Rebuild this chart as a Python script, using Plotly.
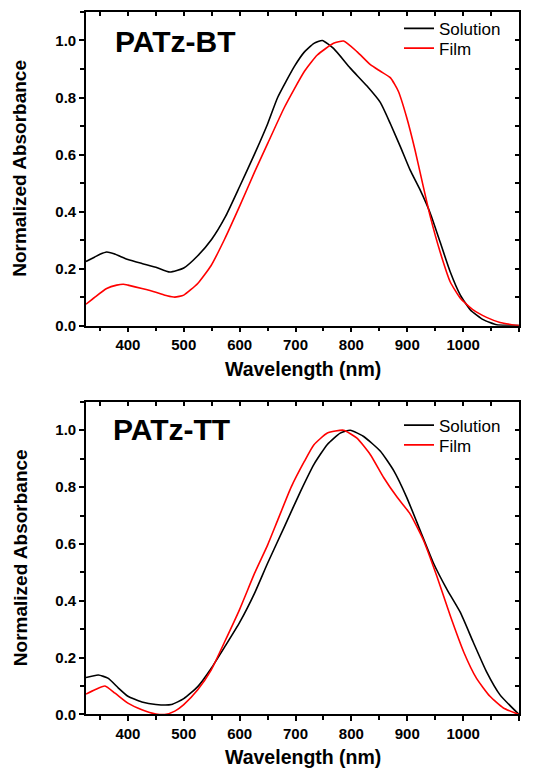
import plotly.graph_objects as go

FONT = "Arial, Liberation Sans, Helvetica, sans-serif"

# ---------------- data: PATz-BT ----------------
bt_sol_wl = [325, 340, 350, 362, 375, 400, 425, 450, 475, 500, 525, 550, 575, 600, 627, 650,
             668, 698, 716, 733, 748, 768, 798, 828, 852, 870, 888, 905, 923, 941, 959, 977,
             995, 1013, 1036, 1060, 1080, 1100]
bt_sol_abs = [0.225, 0.240, 0.250, 0.258, 0.252, 0.232, 0.218, 0.205, 0.188, 0.202, 0.245, 0.303,
              0.384, 0.488, 0.603, 0.707, 0.800, 0.909, 0.960, 0.990, 1.000, 0.972, 0.903, 0.840,
              0.782, 0.707, 0.626, 0.546, 0.476, 0.395, 0.292, 0.188, 0.107, 0.055, 0.021, 0.003,
              0.001, 0.000]

bt_film_wl = [325, 341, 362, 380, 392, 400, 425, 450, 470, 484, 500, 525, 549, 573, 600, 627,
              650, 680, 716, 739, 768, 786, 810, 834, 852, 870, 884, 899, 914, 926, 941, 959,
              977, 995, 1018, 1042, 1066, 1085, 1100]
bt_film_abs = [0.075, 0.100, 0.130, 0.142, 0.145, 0.142, 0.130, 0.117, 0.105, 0.100, 0.107, 0.148,
               0.211, 0.303, 0.419, 0.540, 0.638, 0.765, 0.892, 0.949, 0.990, 0.998, 0.961, 0.915,
               0.892, 0.869, 0.822, 0.730, 0.615, 0.511, 0.384, 0.257, 0.153, 0.096, 0.055, 0.029,
               0.011, 0.004, 0.000]

# ---------------- data: PATz-TT ----------------
tt_sol_wl = [325, 347, 365, 383, 400, 425, 450, 478, 500, 525, 549, 573, 600, 627, 650, 680,
             709, 733, 757, 780, 798, 822, 852, 876, 899, 923, 947, 971, 995, 1018, 1042, 1066,
             1100]
tt_sol_abs = [0.130, 0.139, 0.127, 0.093, 0.064, 0.044, 0.035, 0.035, 0.056, 0.098, 0.162, 0.237,
              0.324, 0.428, 0.532, 0.660, 0.785, 0.880, 0.950, 0.990, 1.000, 0.978, 0.926, 0.857,
              0.764, 0.648, 0.532, 0.440, 0.359, 0.255, 0.150, 0.069, 0.000]

tt_film_wl = [325, 341, 359, 377, 400, 425, 450, 466, 484, 500, 525, 549, 573, 600, 627, 650,
              668, 692, 716, 733, 757, 786, 810, 834, 858, 882, 905, 929, 953, 977, 1001, 1024,
              1048, 1072, 1100]
tt_film_abs = [0.072, 0.087, 0.100, 0.075, 0.040, 0.017, 0.002, 0.000, 0.012, 0.035, 0.087, 0.156,
               0.255, 0.370, 0.498, 0.596, 0.683, 0.799, 0.891, 0.949, 0.990, 1.000, 0.972, 0.914,
               0.833, 0.764, 0.706, 0.613, 0.486, 0.347, 0.220, 0.127, 0.064, 0.023, 0.000]

series_names = ["Solution", "Film"]
panel_labels = ["PATz-BT", "PATz-TT"]
x_title = "Wavelength (nm)"
y_title = "Normalized Absorbance"

X_RANGE = [325, 1100]
Y_RANGE = [0, 1.1]

# page has an 8px body margin; figure sized so the page is exactly 535x777
PAD = 8
W, H = 535 - 2 * PAD, 777 - 2 * PAD
def px_x(p):
    return (p - PAD) / W
def px_y(p):
    return 1 - (p - PAD) / H

XDOM = [px_x(86), px_x(519)]
YDOM_TOP = [px_y(329), px_y(12)]
YDOM_BOT = [px_y(722), px_y(406)]

fig = go.Figure()
line_w = 1.6
def trace(x, y, name, color, xa, ya, leg):
    return go.Scatter(x=x, y=y, name=name, mode="lines",
                      line=dict(color=color, width=line_w, shape="spline", smoothing=0.5),
                      xaxis=xa, yaxis=ya, legend=leg)

fig.add_trace(trace(bt_sol_wl, bt_sol_abs, series_names[0], "black", "x", "y", "legend"))
fig.add_trace(trace(bt_film_wl, bt_film_abs, series_names[1], "#ff0000", "x", "y", "legend2"))
fig.add_trace(trace(tt_sol_wl, tt_sol_abs, series_names[0], "black", "x2", "y2", "legend3"))
fig.add_trace(trace(tt_film_wl, tt_film_abs, series_names[1], "#ff0000", "x2", "y2", "legend4"))
# empty traces that carry the inward top/right tick axes
fig.add_trace(go.Scatter(x=[], y=[], xaxis="x3", yaxis="y3", showlegend=False, hoverinfo="skip"))
fig.add_trace(go.Scatter(x=[], y=[], xaxis="x4", yaxis="y4", showlegend=False, hoverinfo="skip"))

tickfont = dict(family=FONT, size=15, color="black", weight="bold")
AX_W = 1.6

def xaxis(anchor):
    return dict(domain=XDOM, anchor=anchor, range=X_RANGE, showgrid=False, zeroline=False,
                showline=True, mirror=True, linecolor="black", linewidth=AX_W,
                ticks="outside", ticklen=5, tickwidth=AX_W, tickcolor="black",
                tick0=0, dtick=100, tickfont=tickfont,
                minor=dict(ticks="outside", ticklen=4, tickwidth=AX_W, tickcolor="black",
                           dtick=50, tick0=0, showgrid=False))

def yaxis(anchor, dom):
    return dict(domain=dom, anchor=anchor, range=Y_RANGE, showgrid=False, zeroline=False,
                showline=True, mirror=True, linecolor="black", linewidth=AX_W,
                ticks="outside", ticklen=5, tickwidth=AX_W, tickcolor="black",
                tick0=0, dtick=0.2, tickformat=".1f", tickfont=tickfont,
                minor=dict(ticks="outside", ticklen=4, tickwidth=AX_W, tickcolor="black",
                           dtick=0.1, tick0=0, showgrid=False))

def xaxis_top(over, anchor):
    return dict(domain=XDOM, overlaying=over, anchor=anchor, side="top", range=X_RANGE,
                showgrid=False, zeroline=False, showline=False,
                ticks="inside", ticklen=4, tickwidth=AX_W, tickcolor="black",
                tick0=0, dtick=50, showticklabels=False)

def yaxis_right(over, anchor, dom):
    return dict(domain=dom, overlaying=over, anchor=anchor, side="right", range=Y_RANGE,
                showgrid=False, zeroline=False, showline=False,
                ticks="inside", ticklen=4, tickwidth=AX_W, tickcolor="black",
                tick0=0, dtick=0.1, showticklabels=False)

legend_font = dict(family=FONT, size=17, color="black")
def legend_at(yc):
    return dict(x=px_x(399), y=px_y(yc), xanchor="left", yanchor="middle",
                bgcolor="rgba(0,0,0,0)", font=legend_font, borderwidth=0)

fig.update_layout(
    width=W, height=H,
    margin=dict(l=0, r=0, t=0, b=0),
    paper_bgcolor="white", plot_bgcolor="white",
    xaxis=xaxis("y"), yaxis=yaxis("x", YDOM_TOP),
    xaxis2=xaxis("y2"), yaxis2=yaxis("x2", YDOM_BOT),
    xaxis3=xaxis_top("x", "y3"), yaxis3=yaxis_right("y", "x3", YDOM_TOP),
    xaxis4=xaxis_top("x2", "y4"), yaxis4=yaxis_right("y2", "x4", YDOM_BOT),
    legend=legend_at(29), legend2=legend_at(49),
    legend3=legend_at(430), legend4=legend_at(450),
    showlegend=True,
)

ann = []
ann.append(dict(text=panel_labels[0], x=px_x(113), y=px_y(42), xref="paper", yref="paper",
                xanchor="left", yanchor="middle", showarrow=False,
                font=dict(family=FONT, size=30, color="black", weight="bold")))
ann.append(dict(text=panel_labels[1], x=px_x(111), y=px_y(434), xref="paper", yref="paper",
                xanchor="left", yanchor="middle", showarrow=False,
                font=dict(family=FONT, size=30, color="black", weight="bold")))
for yc in (373, 765):
    ann.append(dict(text=x_title, x=px_x(302.5), y=px_y(yc), xref="paper", yref="paper",
                    xanchor="center", yanchor="middle", showarrow=False,
                    font=dict(family=FONT, size=19.5, color="black", weight="bold")))
for yc in (170.5, 564):
    ann.append(dict(text=y_title, x=px_x(20), y=px_y(yc), xref="paper", yref="paper",
                    xanchor="center", yanchor="middle", showarrow=False, textangle=-90,
                    font=dict(family=FONT, size=19, color="black", weight="bold")))
fig.update_layout(annotations=ann)

fig.write_html("out.html")
